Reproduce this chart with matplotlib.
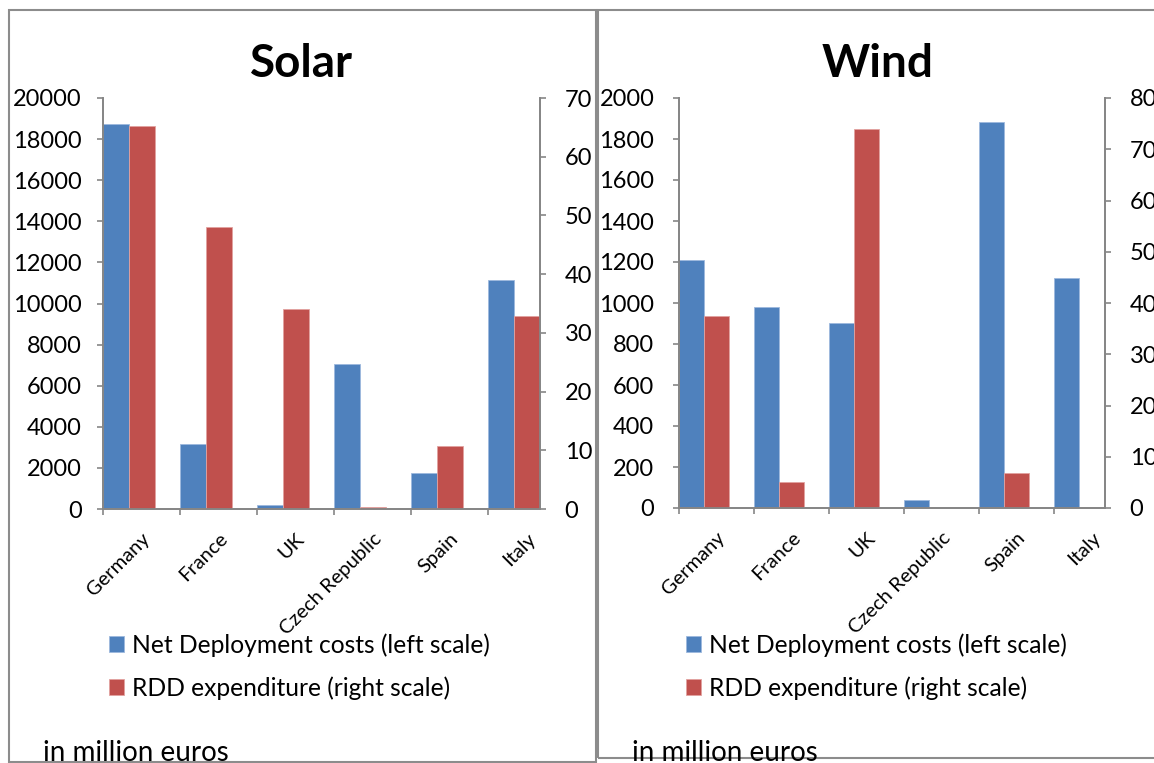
import matplotlib
matplotlib.use("Agg")
import matplotlib.pyplot as plt
from matplotlib.patches import Rectangle
import numpy as np

plt.rcParams['font.family'] = ['Lato', 'DejaVu Sans']

countries = ["Germany", "France", "UK", "Czech Republic", "Spain", "Italy"]

solar_deploy = [18750, 3150, 200, 7050, 1750, 11150]
solar_rdd = [65.3, 48.0, 34.1, 0.3, 10.8, 32.9]

wind_deploy = [1210, 980, 902, 40, 1883, 1122]
wind_rdd = [37.5, 5.1, 74.0, 0, 6.9, 0]

BLUE = "#4F81BD"
RED = "#C0504D"
GRAY = "#868686"
W, H = 1154, 763


def fx(px):
    return px / W


def fy(py):
    return 1 - py / H


def draw_panel(fig, rect, deploy, rdd, lmax, lstep, rmax, rstep, xmax, lpad):
    ax = fig.add_axes(rect)
    ax2 = ax.twinx()
    x = np.arange(len(countries))
    bw = 0.335
    b1 = ax.bar(x, deploy, bw, align='edge', color=BLUE, edgecolor="#9DB9DE", linewidth=0.6)
    b2 = ax2.bar(x + bw, rdd, bw, align='edge', color=RED, edgecolor="#E2A2A0", linewidth=0.6)
    ax.set_xlim(0, xmax)
    ax.set_ylim(0, lmax)
    ax2.set_ylim(0, rmax)
    ax.set_yticks(np.arange(0, lmax + 1, lstep))
    ax2.set_yticks(np.arange(0, rmax + 1, rstep))

    ax.set_xticks(x)
    ax.set_xticklabels([])
    ax.set_xticks(x + 0.5, minor=True)
    ax.set_xticklabels(countries, minor=True, rotation=45, ha='right', va='top',
                       rotation_mode='anchor', fontsize=14.5)
    ax.tick_params(axis='x', which='minor', length=0, pad=15)
    ax.tick_params(axis='x', which='major', length=4.3, color=GRAY, width=1.2, direction='out')
    ax.tick_params(axis='y', length=4.3, color=GRAY, width=1.2, labelsize=17, pad=lpad)
    ax2.tick_params(axis='y', length=4.3, color=GRAY, width=1.2, labelsize=17, pad=13.5)

    for a in (ax, ax2):
        a.spines['top'].set_visible(False)
        for s in ('left', 'right', 'bottom'):
            a.spines[s].set_color(GRAY)
            a.spines[s].set_linewidth(1.3)
    ax.patch.set_visible(False)
    return ax, b1, b2


fig = plt.figure(figsize=(W / 100, H / 100), dpi=100)

# panel frames
fig.patches.append(Rectangle((fx(9), fy(762)), fx(596) - fx(9), fy(10) - fy(762),
                             transform=fig.transFigure, fill=False, edgecolor="#8C8C8C", linewidth=1.5))
fig.patches.append(Rectangle((fx(598), fy(758)), fx(1170) - fx(598), fy(10) - fy(758),
                             transform=fig.transFigure, fill=False, edgecolor="#8C8C8C", linewidth=1.5))

panels = [
    ("Solar", solar_deploy, solar_rdd, 20000, 2000, 70, 10, 5.67, (103, 540, 98, 509), 301, 109, 43, 11),
    ("Wind", wind_deploy, wind_rdd, 2000, 200, 80, 10, 5.68, (679, 1105, 98, 508), 878, 686, 632, 13.5),
]

for title, dep, rdd, lmax, lstep, rmax, rstep, xmax, (l, r, t, b), tx, legx, notex, lpad in panels:
    rect = [fx(l), fy(b), fx(r) - fx(l), fy(t) - fy(b)]
    ax, b1, b2 = draw_panel(fig, rect, dep, rdd, lmax, lstep, rmax, rstep, xmax, lpad)
    fig.text(fx(tx), fy(77), title, fontsize=33, fontweight='bold', ha='center', va='baseline')
    fig.legend([b1, b2], ["Net Deployment costs (left scale)", "RDD expenditure (right scale)"],
               loc='upper left', bbox_to_anchor=(fx(legx), fy(633)), frameon=False,
               fontsize=17.7, handlelength=0.62, handleheight=0.62, handletextpad=0.3,
               labelspacing=0.8, borderaxespad=0, borderpad=0)
    fig.text(fx(notex), fy(761), "in million euros", fontsize=20, ha='left', va='baseline')

fig.savefig("out.png", dpi=100)
